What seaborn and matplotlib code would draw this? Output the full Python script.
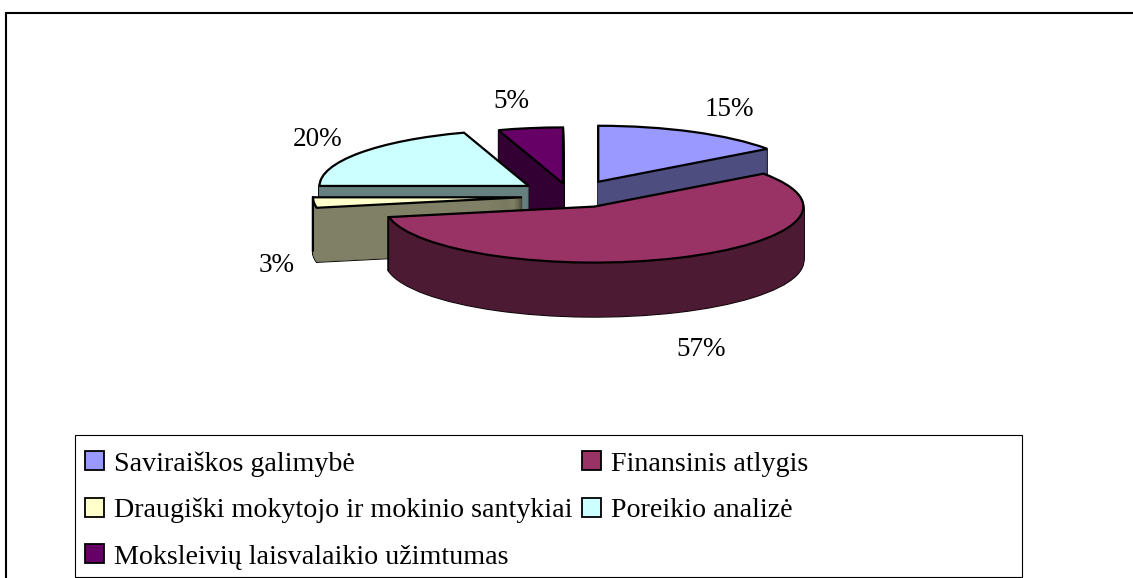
import matplotlib
matplotlib.use("Agg")
import matplotlib.pyplot as plt
import numpy as np
import seaborn as sns
from matplotlib.lines import Line2D
from matplotlib.patches import Patch, Rectangle

categories = ["Saviraiškos galimybė", "Finansinis atlygis",
              "Draugiški mokytojo ir mokinio santykiai", "Poreikio analizė",
              "Moksleivių laisvalaikio užimtumas"]
values = [15, 57, 3, 20, 5]
top_colors = ["#9999FF", "#993366", "#FFFFCC", "#CCFFFF", "#660066"]
side_colors = ["#4D4D80", "#4D1A33", "#808066", "#668080", "#330033"]
explode = [0.245] * 5
stack_rank = [0, 4, 3, 2, 1]            # back-to-front drawing order
slice_shift_px = [(0, 2), (-1, 2), (-2, 4), (-5, 2), (-4, 5)]  # perspective feel
label_xy = [(729, 110), (701, 349), (277, 266), (318, 139), (511, 102)]
legend_order = [0, 2, 4, 1, 3]          # row-wise reading across two columns

W, H = 1133, 578
CX, CY, RX, RY = 575, 192, 209, 56
DEPTH_PX = 54

sns.set_theme(style="white", rc={"axes.facecolor": "white"})
plt.rcParams["font.family"] = ["Liberation Serif", "DejaVu Serif"]
top_pal = sns.color_palette(top_colors)
side_pal = sns.color_palette(side_colors)

fig = plt.figure(figsize=(W / 100, H / 100), dpi=100, facecolor="white")
ax = fig.add_axes([0, 0, 1, 1])


def layer(offset_px, colors, **wedgeprops):
    wedges, _ = ax.pie(values, colors=colors, explode=explode, startangle=90,
                       counterclock=False, center=(0, -offset_px / RY),
                       radius=1, wedgeprops=wedgeprops)
    for w, (dx, dy) in zip(wedges, slice_shift_px):
        cx, cy = w.center
        w.set_center((cx + dx / RX, cy - dy / RY))
    return wedges


offsets = list(range(DEPTH_PX, 0, -1))
for off in offsets:
    for i, w in enumerate(layer(off, side_pal, edgecolor="black", linewidth=1.6)):
        w.set_zorder(10 * stack_rank[i] + 1)
for off in offsets:
    wedges = layer(off, side_pal, linewidth=0.4)
    for i, w in enumerate(wedges):
        w.set_edgecolor(side_pal[i])
        w.set_zorder(10 * stack_rank[i] + 2)
tops = layer(0, top_pal, edgecolor="black", linewidth=1.6)
for i, w in enumerate(tops):
    w.set_zorder(10 * stack_rank[i] + 4)

# crease on the thin slice, where its rim meets its cut face
yellow = tops[2]
ang = np.deg2rad(min(yellow.theta1, yellow.theta2))
x0 = yellow.center[0] + np.cos(ang)
y0 = yellow.center[1] + np.sin(ang)
ax.plot([x0, x0], [y0, y0 - DEPTH_PX / RY], color="black", lw=1.5,
        zorder=10 * stack_rank[2] + 3)

ax.set_aspect("auto")
ax.set_xlim(-CX / RX, (W - CX) / RX)
ax.set_ylim((CY - H) / RY, CY / RY)
ax.axis("off")

for v, (px, py) in zip(values, label_xy):
    fig.text(px / W, 1 - py / H, f"{v}%", ha="center", va="center",
             fontsize=19.5, color="black", zorder=100)

# chart-area border: left and top only reach the picture
fig.add_artist(Line2D([6 / W, 6 / W], [0, 1 - 13 / H], color="black", lw=1.5))
fig.add_artist(Line2D([6 / W, 1], [1 - 13 / H, 1 - 13 / H], color="black", lw=1.5))

# legend box
fig.add_artist(Rectangle((75 / W, 1 / H), (1022 - 75) / W, (577 - 435) / H,
                         transform=fig.transFigure, facecolor="white",
                         edgecolor="black", lw=0.8))
handles = [Patch(facecolor=top_pal[i], edgecolor="black", linewidth=1.3)
           for i in legend_order]
labels = [categories[i] for i in legend_order]
leg = fig.legend(handles, labels, ncol=2, loc="upper left",
                 bbox_to_anchor=(75 / W, 1 - 441 / H), frameon=False,
                 fontsize=20.2, handlelength=0.68, handleheight=0.68,
                 handletextpad=0.36, columnspacing=0.32, labelspacing=0.75,
                 borderpad=0.36, borderaxespad=0, labelcolor="black")
leg.set_zorder(50)

fig.savefig("out.png", dpi=100, facecolor="white")
